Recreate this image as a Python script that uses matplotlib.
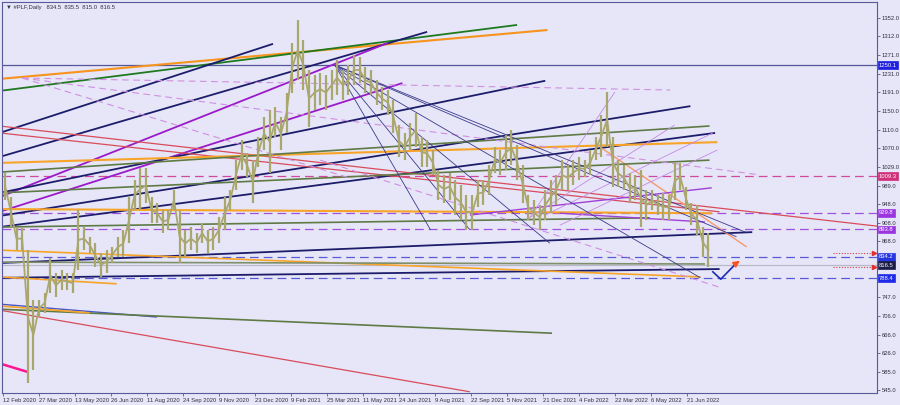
import numpy as np
import matplotlib
matplotlib.use("Agg")
import matplotlib.pyplot as plt

plt.rcParams["font.family"] = ["Liberation Sans", "DejaVu Sans"]

# weekly high / low (5 daily bars per entry, first bar = 12 Feb 2020)
week_high = [1016, 964, 899, 899, 849, 741, 741, 756, 832, 799, 806, 799, 799, 936, 899, 877,
             864, 843, 849, 856, 877, 893, 964, 1001, 1027, 1027, 964, 951, 936, 936, 979, 936,
             893, 899, 886, 908, 893, 899, 921, 964, 979, 1044, 1088, 1059, 1044, 1094, 1137, 1153,
             1159, 1137, 1189, 1298, 1348, 1304, 1239, 1228, 1233, 1228, 1239, 1261, 1239, 1250, 1272, 1268,
             1246, 1239, 1218, 1202, 1196, 1174, 1120, 1103, 1124, 1146, 1094, 1088, 1066, 1023, 1012, 1016,
             1001, 990, 968, 968, 1001, 1001, 1033, 1072, 1066, 1098, 1109, 1077, 1033, 968, 958, 947,
             979, 1001, 1012, 1044, 1033, 1044, 1051, 1044, 1066, 1094, 1142, 1192, 1094, 1044, 1033, 1016,
             1012, 1023, 979, 979, 968, 973, 968, 1038, 1038, 986, 951, 947, 899, 886]
week_low = [958, 899, 849, 849, 561, 589, 704, 713, 756, 747, 763, 763, 756, 806, 849, 843,
            812, 791, 799, 821, 834, 834, 864, 936, 936, 951, 908, 908, 886, 893, 936, 821,
            834, 849, 843, 864, 843, 849, 864, 893, 936, 979, 1023, 1007, 951, 1029, 1066, 1016,
            1094, 1066, 1103, 1189, 1218, 1196, 1116, 1153, 1163, 1153, 1174, 1185, 1174, 1185, 1207, 1211,
            1189, 1185, 1163, 1153, 1142, 1103, 1051, 1044, 1066, 1072, 1029, 1029, 1012, 958, 951, 958,
            925, 914, 893, 893, 942, 947, 968, 1016, 1012, 1023, 1033, 1001, 951, 914, 903, 893,
            914, 929, 947, 979, 979, 990, 1001, 1007, 1012, 1044, 1051, 1072, 986, 986, 979, 951,
            958, 899, 914, 936, 925, 914, 914, 958, 979, 936, 903, 882, 834, 812]

date_labels = ["12 Feb 2020", "27 Mar 2020", "13 May 2020", "26 Jun 2020", "11 Aug 2020",
               "24 Sep 2020", "9 Nov 2020", "23 Dec 2020", "9 Feb 2021", "25 Mar 2021",
               "11 May 2021", "24 Jun 2021", "9 Aug 2021", "22 Sep 2021", "5 Nov 2021",
               "21 Dec 2021", "4 Feb 2022", "22 Mar 2022", "6 May 2022", "21 Jun 2022"]
price_ticks = [1352.0, 1312.0, 1271.0, 1231.0, 1191.0, 1150.0, 1110.0, 1070.0, 1029.0, 989.0,
               948.0, 908.0, 868.0, 747.0, 706.0, 666.0, 626.0, 585.0, 545.0]

# drawn objects: (bar1, price1, bar2, price2, colour, width, style)
trend_lines = [
    (-3, 1220, 484, 1326, "#f7941d", 1.5, "-"),
    (-3, 1194, 457, 1337, "#1f7a1f", 1.3, "-"),
    (-3, 1103, 240, 1296, "#1c1c6b", 1.3, "-"),
    (-3, 1051, 377, 1322, "#1c1c6b", 1.3, "-"),
    (-3, 964, 342, 1298, "#9b19c9", 1.3, "-"),
    (-3, 932, 355, 1211, "#9b19c9", 1.3, "-"),
    (-3, 973, 482, 1216, "#1c1c6b", 1.3, "-"),
    (-3, 923, 611, 1161, "#1c1c6b", 1.3, "-"),
    (-3, 899, 633, 1103, "#1c1c6b", 1.3, "-"),
    (-3, 821, 666, 888, "#1c1c6b", 1.3, "-"),
    (-3, 789, 637, 808, "#1c1c6b", 1.3, "-"),
    (-3, 732, 137, 704, "#4a55c8", 1.0, "-"),
    (-3, 721, 488, 669, "#5f7a45", 1.2, "-"),
    (-3, 719, 415, 542, "#d94c5a", 0.9, "-"),
    (-1, 602, 22, 585, "#ff1493", 1.8, "-"),
    (-3, 1118, 777, 901, "#d94c5a", 0.9, "-"),
    (-3, 1103, 637, 932, "#d94c5a", 0.9, "-"),
    (531, 1072, 661, 856, "#f59a6a", 1.0, "-"),
    (-3, 1038, 635, 1083, "#f7a428", 1.5, "-"),
    (-3, 938, 630, 929, "#f7a428", 1.5, "-"),
    (-3, 849, 620, 791, "#f7a428", 1.2, "-"),
    (-3, 791, 101, 776, "#f7a428", 1.2, "-"),
    (-3, 728, 77, 713, "#f7a428", 1.2, "-"),
    (-3, 1018, 628, 1118, "#5f7a45", 1.2, "-"),
    (-3, 973, 628, 1044, "#5f7a45", 1.2, "-"),
    (-3, 899, 575, 919, "#5f7a45", 1.2, "-"),
    (-3, 823, 624, 819, "#7f8f6a", 1.2, "-"),
    (17, 1222, 593, 1196, "#d08fe0", 0.8, "--"),
    (17, 1222, 306, 1007, "#d08fe0", 0.8, "--"),
    (17, 1222, 673, 1012, "#d08fe0", 0.8, "--"),
    (282, 1044, 639, 767, "#d08fe0", 0.8, "--"),
    (415, 925, 630, 984, "#a040d8", 1.0, "-"),
    (495, 929, 624, 910, "#a040d8", 1.0, "-"),
    (468, 919, 544, 1192, "#c58ae6", 0.6, "-"),
    (468, 919, 597, 1120, "#c58ae6", 0.6, "-"),
    (482, 925, 631, 1103, "#c58ae6", 0.6, "-"),
    (495, 903, 635, 1066, "#c58ae6", 0.6, "-"),
    (295, 1250, 380, 893, "#3a3a8a", 0.6, "-"),
    (295, 1250, 415, 893, "#3a3a8a", 0.6, "-"),
    (295, 1250, 486, 864, "#3a3a8a", 0.6, "-"),
    (295, 1250, 620, 789, "#3a3a8a", 0.6, "-"),
    (295, 1250, 660, 888, "#3a3a8a", 0.6, "-"),
    (295, 1250, 652, 878, "#3a3a8a", 0.6, "-"),
]

# horizontal levels: price, line colour, style, label colour
levels = [
    (1250.1, "#55559a", "-", "#1f1fe0"),
    (1009.3, "#d04aa0", "--", "#d0307a"),
    (929.8, "#a050dc", "--", "#9a35e0"),
    (893.8, "#a050dc", "--", "#9a35e0"),
    (834.2, "#5a5ad8", "--", "#2535e0"),
    (816.5, "#b8b8c8", "-", "#1c1c48"),
    (788.4, "#5a5ad8", "--", "#1f2ae8"),
]
alerts = [842.8, 812.4]
arrow_bars = [631, 638, 652]
arrow_prices = [802, 786, 821]

fig = plt.figure(figsize=(9, 4.05), dpi=100)
fig.patch.set_facecolor("#e6e6f8")
ax = fig.add_axes([2 / 900, 12 / 405, 875 / 900, 391 / 405])
ax.set_facecolor("#e6e6f8")

ax.set_xlim(-0.9, 776.9)
ax.set_ylim(539.4, 1386.7)

for p, c, ls, lc in levels:
    ax.axhline(p, color=c, lw=0.9, ls=(0, (7, 4)) if ls == "--" else "-", zorder=1)

for b1, p1, b2, p2, c, w, ls in trend_lines:
    ax.plot([b1, b2], [p1, p2], color=c, lw=w, ls=(0, (6, 4)) if ls == "--" else "-",
            solid_capstyle="butt", zorder=2)

# price bars
wx = np.arange(len(week_high)) * 5 + 2
hi = np.array(week_high)
lo = np.array(week_low)
ax.vlines(wx, lo, hi, color="#aaa76e", lw=1.6, zorder=3)
ax.plot(wx, (hi + lo) / 2, color="#aaa76e", lw=1.3, zorder=3)

for a in alerts:
    ax.plot([738, 773], [a, a], color="#e04040", lw=0.8, ls=(0, (1, 1.5)), zorder=2)
    ax.plot([774], [a], marker=">", color="#e03030", ms=3, zorder=2)

ax.plot(arrow_bars, arrow_prices, color="#1c2ab0", lw=1.2, zorder=4)
ax.annotate("", xy=(655, 826), xytext=(651, 819),
            arrowprops=dict(arrowstyle="-|>", color="#ff5020", lw=1.2, mutation_scale=9), zorder=4)

# axes cosmetics
for s in ax.spines.values():
    s.set_color("#5a5a98")
    s.set_linewidth(0.8)
ax.yaxis.tick_right()
ax.set_yticks(price_ticks)
ax.set_yticklabels(["%.1f" % t for t in price_ticks])
ax.set_xticks(np.arange(len(date_labels)) * 32)
ax.set_xticklabels(date_labels, ha="left")
ax.tick_params(axis="both", colors="#5a5a98", labelcolor="#303040", labelsize=4.2,
               length=2.5, width=0.6, pad=1.0)

for p, c, ls, lc in levels:
    ax.text(1.002, p, "%.1f" % p, transform=ax.get_yaxis_transform(), fontsize=4.2,
            color="white", va="center", ha="left", zorder=10, clip_on=False,
            bbox=dict(boxstyle="square,pad=0.2", fc=lc, ec=lc, lw=0.5))

fig.text(6 / 900, 1 - 8 / 405, "\u25bc #PLF,Daily   834.5  835.5  815.0  816.5", fontsize=4.2,
         color="#303040", va="center", ha="left")

fig.savefig("out.png", dpi=100, facecolor=fig.get_facecolor())
